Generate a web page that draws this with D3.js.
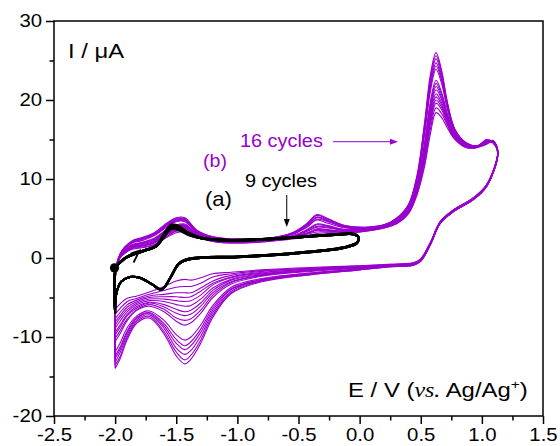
<!DOCTYPE html>
<html><head><meta charset="utf-8">
<script src="https://cdn.jsdelivr.net/npm/d3@7"></script>
<style>
body{margin:0;background:#fff}
svg{display:block}
text{font-family:Arial,"Liberation Sans",sans-serif}
</style>
</head><body>
<svg id="c" width="560" height="446"></svg>
<script>
// ---------- data ----------
const xTicks = [-2.5,-2.0,-1.5,-1.0,-0.5,0.0,0.5,1.0,1.5];
const xMinorTicks = [-2.25,-1.75,-1.25,-0.75,-0.25,0.25,0.75,1.25];
const yTicks = [-20,-10,0,10,20,30];
const yMinorTicks = [-15,-5,5,15,25];

// potential path of one purple cycle (V)
const purpleE = [-2.00,-1.99,-1.96,-1.92,-1.86,-1.78,-1.68,-1.58,-1.50,-1.43,-1.33,-1.20,-1.00,-0.75,-0.55,-0.43,-0.35,-0.26,-0.12,0.05,0.20,0.30,0.40,0.47,0.53,0.58,0.625,0.67,0.72,0.78,0.87,0.96,1.04,1.09,1.13,1.04,0.93,0.77,0.66,0.58,0.50,0.44,0.25,0.00,-0.40,-0.80,-1.05,-1.20,-1.30,-1.38,-1.43,-1.50,-1.60,-1.72,-1.82,-1.90,-1.96,-2.00];

// current (µA) of the 16 purple cycles
const purpleC1  = [-6.5,-1.3,0.0,0.6,1.1,1.3,1.6,2.6,3.2,3.3,2.6,2.1,1.9,2.1,2.4,2.7,2.9,3.0,3.1,3.4,3.8,4.3,5.6,8.0,11.5,15.8,18.4,17.8,16.4,15.0,14.0,14.0,14.4,14.8,13.6,9.3,7.6,6.1,4.6,2.0,-0.1,-0.6,-0.8,-1.0,-1.2,-1.5,-1.8,-2.0,-2.5,-2.8,-2.7,-2.9,-3.6,-4.3,-4.8,-5.1,-5.8,-6.5];
const purpleC2  = [-7.1,-1.3,0.0,0.7,1.2,1.4,1.7,2.7,3.4,3.4,2.7,2.1,1.9,2.1,2.5,2.8,3.1,3.2,3.2,3.4,3.8,4.4,5.7,8.2,11.9,16.4,19.0,18.3,16.7,15.1,14.0,14.0,14.9,14.7,13.6,9.3,7.6,6.1,4.6,2.0,-0.1,-0.6,-0.8,-1.0,-1.3,-1.6,-2.0,-2.4,-3.2,-3.6,-3.6,-3.7,-4.1,-4.6,-5.1,-5.5,-6.4,-7.1];
const purpleC3  = [-7.7,-1.3,0.1,0.7,1.3,1.5,1.9,2.9,3.5,3.6,2.7,2.2,2.0,2.2,2.5,3.0,3.3,3.3,3.3,3.5,3.9,4.4,5.8,8.4,12.4,17.0,19.6,18.8,16.9,15.2,14.1,14.0,14.5,14.9,13.5,9.3,7.6,6.1,4.6,2.0,-0.2,-0.7,-0.9,-1.1,-1.3,-1.7,-2.2,-2.9,-3.8,-4.4,-4.4,-4.4,-4.6,-4.8,-5.3,-5.9,-6.9,-7.7];
const purpleC4  = [-8.1,-1.2,0.1,0.8,1.3,1.6,1.9,3.0,3.6,3.7,2.8,2.2,2.0,2.2,2.6,3.1,3.5,3.4,3.3,3.5,3.9,4.4,5.9,8.5,12.7,17.4,20.0,19.1,17.1,15.3,14.1,14.0,15.0,14.6,13.5,9.3,7.6,6.1,4.6,1.9,-0.2,-0.7,-0.9,-1.1,-1.4,-1.8,-2.4,-3.2,-4.2,-4.9,-5.0,-4.9,-4.9,-5.0,-5.5,-6.2,-7.3,-8.1];
const purpleC5  = [-8.5,-1.2,0.1,0.8,1.4,1.6,2.0,3.1,3.7,3.8,2.8,2.3,2.0,2.2,2.6,3.1,3.6,3.5,3.4,3.5,3.9,4.5,5.9,8.7,12.9,17.8,20.4,19.4,17.2,15.3,14.2,14.1,14.6,14.8,13.5,9.2,7.5,6.0,4.5,1.9,-0.2,-0.7,-0.9,-1.1,-1.4,-1.9,-2.5,-3.4,-4.7,-5.4,-5.5,-5.4,-5.2,-5.2,-5.7,-6.5,-7.6,-8.5];
const purpleC6  = [-8.9,-1.2,0.2,0.9,1.5,1.7,2.1,3.2,3.8,3.9,2.9,2.3,2.1,2.2,2.7,3.2,3.7,3.6,3.4,3.6,3.9,4.5,6.0,8.8,13.3,18.2,20.8,19.7,17.4,15.4,14.2,14.1,14.8,14.7,13.4,9.2,7.5,6.0,4.5,1.9,-0.2,-0.7,-0.9,-1.2,-1.5,-2.0,-2.7,-3.8,-5.2,-6.0,-6.1,-5.9,-5.5,-5.4,-5.9,-6.8,-8.0,-8.9];
const purpleC7  = [-9.4,-1.2,0.2,0.9,1.5,1.8,2.2,3.3,3.9,4.0,2.9,2.3,2.1,2.3,2.7,3.4,3.9,3.8,3.5,3.6,4.0,4.6,6.1,9.0,13.6,18.7,21.3,20.1,17.6,15.5,14.2,14.1,14.5,14.8,13.4,9.2,7.5,6.0,4.5,1.9,-0.2,-0.7,-0.9,-1.2,-1.5,-2.1,-2.8,-4.1,-5.7,-6.6,-6.8,-6.5,-5.9,-5.6,-6.1,-7.1,-8.5,-9.4];
const purpleC8  = [-9.7,-1.2,0.2,0.9,1.6,1.9,2.3,3.4,4.0,4.1,3.0,2.4,2.1,2.3,2.7,3.4,4.0,3.9,3.5,3.6,4.0,4.6,6.1,9.1,13.9,19.0,21.7,20.4,17.8,15.6,14.3,14.1,15.0,14.6,13.4,9.2,7.5,6.0,4.5,1.9,-0.2,-0.7,-0.9,-1.2,-1.6,-2.2,-3.0,-4.4,-6.1,-7.1,-7.3,-7.0,-6.2,-5.7,-6.3,-7.3,-8.8,-9.7];
const purpleC9  = [-10.2,-1.2,0.2,1.0,1.6,1.9,2.4,3.5,4.1,4.2,3.0,2.4,2.1,2.3,2.8,3.5,4.2,4.0,3.6,3.6,4.0,4.6,6.2,9.2,14.2,19.5,22.1,20.7,18.0,15.6,14.3,14.1,14.7,14.7,13.4,9.2,7.5,6.0,4.5,1.9,-0.3,-0.8,-1.0,-1.2,-1.6,-2.2,-3.1,-4.7,-6.6,-7.7,-7.9,-7.6,-6.5,-5.9,-6.5,-7.7,-9.2,-10.2];
const purpleC10 = [-10.6,-1.1,0.3,1.0,1.7,2.0,2.5,3.6,4.2,4.3,3.1,2.4,2.2,2.3,2.8,3.6,4.3,4.1,3.6,3.7,4.0,4.7,6.3,9.4,14.5,19.9,22.5,21.0,18.1,15.7,14.3,14.1,14.6,14.8,13.4,9.2,7.5,6.0,4.5,1.8,-0.3,-0.8,-1.0,-1.3,-1.7,-2.3,-3.3,-5.0,-7.0,-8.2,-8.5,-8.0,-6.8,-6.1,-6.6,-7.9,-9.6,-10.6];
const purpleC11 = [-11.9,-1.1,0.4,1.2,1.9,2.2,2.8,3.9,4.6,4.6,3.2,2.5,2.3,2.4,3.0,3.9,4.8,4.4,3.8,3.8,4.1,4.8,6.5,9.8,15.5,21.2,23.9,22.1,18.7,15.9,14.4,14.1,14.9,14.6,13.3,9.2,7.5,6.0,4.5,1.8,-0.3,-0.8,-1.0,-1.4,-1.9,-2.6,-3.7,-6.0,-8.5,-10.0,-10.4,-9.7,-7.9,-6.7,-7.3,-8.8,-10.8,-11.9];
const purpleC12 = [-12.4,-1.1,0.4,1.2,2.0,2.3,2.9,4.0,4.7,4.7,3.3,2.6,2.3,2.4,3.0,4.0,4.9,4.6,3.9,3.8,4.1,4.8,6.5,10.0,15.8,21.7,24.3,22.5,18.9,16.0,14.5,14.2,14.7,14.7,13.3,9.1,7.4,5.9,4.4,1.8,-0.3,-0.8,-1.0,-1.4,-1.9,-2.7,-3.9,-6.3,-9.0,-10.6,-11.1,-10.3,-8.3,-6.9,-7.5,-9.2,-11.3,-12.4];
const purpleC13 = [-12.7,-1.1,0.4,1.3,2.0,2.4,2.9,4.1,4.8,4.8,3.3,2.6,2.3,2.4,3.1,4.1,5.1,4.7,3.9,3.8,4.1,4.9,6.6,10.1,16.1,22.0,24.7,22.8,19.1,16.1,14.5,14.2,14.8,14.7,13.3,9.1,7.4,5.9,4.4,1.8,-0.3,-0.8,-1.0,-1.4,-2.0,-2.8,-4.0,-6.6,-9.4,-11.1,-11.6,-10.8,-8.6,-7.0,-7.6,-9.4,-11.6,-12.7];
const purpleC14 = [-13.2,-1.0,0.4,1.3,2.1,2.5,3.0,4.2,4.9,4.9,3.4,2.6,2.3,2.5,3.1,4.2,5.2,4.8,4.0,3.8,4.2,4.9,6.7,10.2,16.4,22.5,25.2,23.1,19.3,16.2,14.5,14.2,14.6,14.6,13.2,9.1,7.4,5.9,4.4,1.7,-0.4,-0.9,-1.1,-1.4,-2.0,-2.8,-4.2,-6.9,-9.9,-11.7,-12.2,-11.4,-8.9,-7.2,-7.8,-9.7,-12.0,-13.2];
const purpleC15 = [-13.6,-1.0,0.5,1.4,2.1,2.5,3.1,4.3,5.0,5.0,3.5,2.7,2.4,2.5,3.2,4.3,5.4,4.9,4.1,3.9,4.2,5.0,6.7,10.4,16.7,22.9,25.6,23.5,19.4,16.2,14.6,14.2,14.9,14.6,13.2,9.1,7.4,5.9,4.4,1.7,-0.4,-0.9,-1.1,-1.5,-2.1,-2.9,-4.4,-7.2,-10.4,-12.3,-12.9,-11.9,-9.3,-7.4,-8.0,-10.0,-12.5,-13.6];
const purpleC16 = [-14.0,-1.0,0.5,1.4,2.2,2.6,3.2,4.4,5.1,5.1,3.5,2.7,2.4,2.5,3.2,4.4,5.5,5.0,4.1,3.9,4.2,5.0,6.8,10.5,17.0,23.3,26.0,23.8,19.6,16.3,14.6,14.2,14.7,14.6,13.2,9.1,7.4,5.9,4.4,1.7,-0.4,-0.9,-1.1,-1.5,-2.1,-3.0,-4.5,-7.5,-10.8,-12.8,-13.4,-12.4,-9.6,-7.6,-8.2,-10.3,-12.8,-14.0];
const purpleCycles = [purpleC1,purpleC2,purpleC3,purpleC4,purpleC5,purpleC6,purpleC7,purpleC8,purpleC9,purpleC10,purpleC11,purpleC12,purpleC13,purpleC14,purpleC15,purpleC16];

// potential path of one black cycle (V)
const blackE = [-2.00,-1.995,-1.96,-1.90,-1.82,-1.74,-1.66,-1.60,-1.54,-1.48,-1.40,-1.30,-1.10,-0.80,-0.50,-0.20,-0.06,-0.01,-0.02,-0.12,-0.50,-1.00,-1.30,-1.40,-1.48,-1.55,-1.62,-1.70,-1.80,-1.88,-1.95,-1.99,-2.00];
const blackC1 = [-7.0,-1.3,-0.6,0.1,0.6,1.0,1.5,2.6,3.7,3.5,2.9,2.5,2.2,2.3,2.6,2.9,3.0,2.6,1.9,1.3,0.6,0.1,0.0,-0.2,-0.8,-2.6,-4.0,-3.3,-2.5,-2.4,-3.0,-4.5,-7.0];
const blackC2 = [-7.0,-1.3,-0.6,0.1,0.6,1.0,1.5,2.7,3.75,3.6,2.9,2.5,2.2,2.3,2.6,2.9,3.0,2.6,1.9,1.3,0.6,0.1,0.0,-0.2,-0.8,-2.6,-4.0,-3.3,-2.5,-2.4,-3.0,-4.5,-7.0];
const blackC3 = [-7.0,-1.3,-0.6,0.1,0.6,1.0,1.5,2.7,3.8,3.6,3.0,2.5,2.2,2.3,2.6,2.9,3.0,2.6,1.9,1.3,0.6,0.1,0.0,-0.2,-0.8,-2.6,-4.0,-3.3,-2.5,-2.4,-3.0,-4.5,-7.0];
const blackC4 = [-7.0,-1.3,-0.6,0.1,0.6,1.0,1.5,2.8,3.85,3.7,3.0,2.5,2.2,2.3,2.6,2.9,3.0,2.6,1.9,1.3,0.6,0.1,0.0,-0.2,-0.8,-2.6,-4.0,-3.3,-2.5,-2.4,-3.0,-4.5,-7.0];
const blackC5 = [-7.0,-1.3,-0.6,0.1,0.6,1.0,1.5,2.8,3.9,3.7,3.0,2.5,2.2,2.3,2.6,2.9,3.0,2.6,1.9,1.3,0.6,0.1,0.0,-0.2,-0.8,-2.6,-4.0,-3.3,-2.5,-2.4,-3.0,-4.5,-7.0];
const blackC6 = [-7.0,-1.3,-0.5,0.2,0.7,1.1,1.6,3.0,4.1,3.9,3.1,2.6,2.3,2.4,2.7,3.0,3.1,2.7,2.0,1.4,0.7,0.2,0.1,-0.1,-0.7,-2.5,-4.0,-3.3,-2.5,-2.4,-3.0,-4.5,-7.0];
const blackC7 = [-7.0,-1.3,-0.5,0.2,0.7,1.1,1.6,3.0,4.15,4.0,3.1,2.6,2.3,2.4,2.7,3.0,3.1,2.7,2.0,1.4,0.7,0.2,0.1,-0.1,-0.7,-2.5,-4.0,-3.3,-2.5,-2.4,-3.0,-4.5,-7.0];
const blackC8 = [-7.0,-1.3,-0.5,0.2,0.7,1.1,1.6,3.1,4.2,4.0,3.2,2.6,2.3,2.4,2.7,3.0,3.1,2.7,2.0,1.4,0.7,0.2,0.1,-0.1,-0.7,-2.5,-4.0,-3.3,-2.5,-2.4,-3.0,-4.5,-7.0];
const blackC9 = [-7.0,-1.3,-0.5,0.2,0.7,1.1,1.6,3.1,4.2,4.1,3.2,2.6,2.3,2.4,2.7,3.0,3.1,2.7,2.0,1.4,0.7,0.2,0.1,-0.1,-0.7,-2.5,-4.0,-3.3,-2.5,-2.4,-3.0,-4.5,-7.0];
const blackCycles = [blackC1,blackC2,blackC3,blackC4,blackC5,blackC6,blackC7,blackC8,blackC9];

// start point marker (E, I)
const startPoint = [-2.005, -1.25];

// ---------- drawing ----------
const PURPLE = "#9900cc";
const svg = d3.select("#c");
const x = d3.scaleLinear().domain([-2.5, 1.5]).range([54, 543]);
const y = d3.scaleLinear().domain([-20, 30]).range([416, 21]);
const line = d3.line().curve(d3.curveCatmullRom.alpha(0.5));

svg.append("rect").attr("width",560).attr("height",446).attr("fill","#fff");

// purple cycles
const gP = svg.append("g").attr("fill","none").attr("stroke",PURPLE).attr("stroke-width",1.1).attr("stroke-linejoin","round");
purpleCycles.forEach(c => {
  gP.append("path").attr("d", line(purpleE.map((e,i)=>[x(e), y(c[i])])));
});

// black cycles
const gB = svg.append("g").attr("fill","none").attr("stroke","#000").attr("stroke-width",2).attr("stroke-linejoin","round");
blackCycles.forEach(c => {
  gB.append("path").attr("d", line(blackE.map((e,i)=>[x(e), y(c[i])])));
});

// start dot
svg.append("circle").attr("cx", x(startPoint[0])).attr("cy", y(startPoint[1])).attr("r", 4.6).attr("fill","#000");

// scan-direction arrowhead on black curve
{
  const tx = x(-1.80), ty = y(0.95);
  svg.append("path").attr("d", `M${tx-9},${ty+3}L${tx},${ty}L${tx-6},${ty+12}`)
    .attr("fill","none").attr("stroke","#000").attr("stroke-width",1.8).attr("stroke-linejoin","miter");
}

// ---------- axes ----------
function styleAxis(g){
  g.select(".domain").remove();
  g.selectAll(".tick line").attr("stroke","#000").attr("stroke-width",1.5);
  g.attr("font-family","Arial, 'Liberation Sans', sans-serif").attr("font-size",18.5);
  g.selectAll("text").attr("fill","#000");
}
const gx = svg.append("g").attr("transform",`translate(0,${y(-20)})`);
gx.call(d3.axisBottom(x).tickValues(xTicks).tickSize(8).tickPadding(4).tickFormat(d=>d.toFixed(1)));
styleAxis(gx);
gx.selectAll(".tick text").attr("transform","scale(1.1,1)");
const gx2 = svg.append("g").attr("transform",`translate(0,${y(-20)})`);
gx2.call(d3.axisBottom(x).tickValues(xMinorTicks).tickSize(4.5).tickFormat(""));
styleAxis(gx2);

const gy = svg.append("g").attr("transform",`translate(${x(-2.5)},0)`);
gy.call(d3.axisLeft(y).tickValues(yTicks).tickSize(8).tickPadding(4).tickFormat(d=>String(d)));
styleAxis(gy);
gy.selectAll(".tick text").attr("x", -12/1.1).attr("transform","scale(1.1,1)");
const gy2 = svg.append("g").attr("transform",`translate(${x(-2.5)},0)`);
gy2.call(d3.axisLeft(y).tickValues(yMinorTicks).tickSize(4.5).tickFormat(""));
styleAxis(gy2);

// frame
svg.append("rect").attr("x", x(-2.5)).attr("y", y(30)).attr("width", x(1.5)-x(-2.5)).attr("height", y(-20)-y(30))
  .attr("fill","none").attr("stroke","#000").attr("stroke-width",1.5);

// ---------- text ----------
function fitText(t, e0, e1, iBase){
  const w = t.node().getBBox().width;
  const k = (x(e1)-x(e0))/w;
  t.attr("transform", `translate(${x(e0)},${y(iBase)}) scale(${k},1)`);
}
function addText(str, size, color){
  return svg.append("text").attr("x",0).attr("y",0).attr("font-size",size).attr("fill",color).text(str);
}

fitText(addText("I / μA", 19.5, "#000"), -2.385, -1.927, 25.3);

{
  const t = svg.append("text").attr("font-size",20).attr("fill","#000");
  t.append("tspan").text("E / V (");
  t.append("tspan").attr("font-family","'Liberation Serif','Times New Roman',serif").attr("font-style","italic").text("vs.");
  t.append("tspan").text(" Ag/Ag");
  t.append("tspan").attr("font-size",13).attr("dy",-8).text("+");
  t.append("tspan").attr("dy",8).text(")");
  fitText(t, -0.095, 1.377, -17.6);
}

fitText(addText("16 cycles", 18.5, PURPLE), -0.979, -0.300, 14.05);
fitText(addText("(b)", 18.5, PURPLE), -1.281, -1.085, 11.58);
fitText(addText("9 cycles", 18.5, "#000"), -0.938, -0.349, 9.05);
fitText(addText("(a)", 21, "#000"), -1.265, -1.044, 6.52);

// arrows
function arrow(x1,y1,x2,y2,color){
  const dx=x2-x1, dy=y2-y1, L=Math.hypot(dx,dy), ux=dx/L, uy=dy/L;
  const hl=8, hw=3;
  svg.append("line").attr("x1",x1).attr("y1",y1).attr("x2",x2-ux*hl*0.6).attr("y2",y2-uy*hl*0.6)
    .attr("stroke",color).attr("stroke-width",1);
  const bx=x2-ux*hl, by=y2-uy*hl;
  svg.append("path").attr("d",`M${x2},${y2}L${bx-uy*hw},${by+ux*hw}L${bx+uy*hw},${by-ux*hw}Z`).attr("fill",color);
}
arrow(x(-0.218), y(14.72), x(0.314), y(14.72), PURPLE);
arrow(x(-0.596), y(7.97), x(-0.596), y(3.92), "#000");
</script>
</body></html>
